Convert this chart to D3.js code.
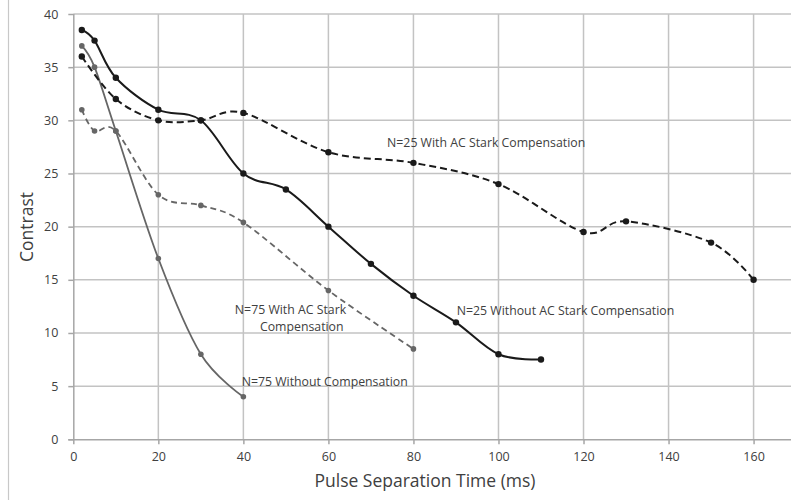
<!DOCTYPE html>
<html>
<head>
<meta charset="utf-8">
<script src="https://d3js.org/d3.v7.min.js"></script>
<style>
html, body { margin: 0; padding: 0; background: #fff; overflow: hidden; }
svg { display: block; }
text { font-family: "Open Sans", sans-serif; fill: #404040; }
</style>
</head>
<body>
<div id="chart"></div>
<script>
  // axis ticks
  var xTicks = [0, 20, 40, 60, 80, 100, 120, 140, 160];
  var yTicks = [0, 5, 10, 15, 20, 25, 30, 35, 40];

  // N=25 Without AC Stark Compensation
  var n25WithoutX = [2, 5, 10, 20, 30, 40, 50, 60, 70, 80, 90, 100, 110];
  var n25WithoutY = [38.5, 37.5, 34, 31, 30, 25, 23.5, 20, 16.5, 13.5, 11, 8, 7.5];

  // N=25 With AC Stark Compensation
  var n25WithX = [2, 10, 20, 30, 40, 60, 80, 100, 120, 130, 150, 160];
  var n25WithY = [36, 32, 30, 30, 30.7, 27, 26, 24, 19.5, 20.5, 18.5, 15];

  // N=75 With AC Stark Compensation
  var n75WithX = [2, 5, 10, 20, 30, 40, 60, 80];
  var n75WithY = [31, 29, 29, 23, 22, 20.4, 14, 8.5];

  // N=75 Without Compensation
  var n75WithoutX = [2, 5, 10, 20, 30, 40];
  var n75WithoutY = [37, 35, 29, 17, 8, 4];

  var width = 791, height = 500;

  var svg = d3.select("#chart").append("svg")
      .attr("width", width).attr("height", height);

  var x = d3.scaleLinear().domain([0, 168.8]).range([73.3, 791]);
  var y = d3.scaleLinear().domain([0, 40]).range([439.3, 14]);

  // outer frame line on the left
  svg.append("line")
      .attr("x1", 8.5).attr("x2", 8.5).attr("y1", 0).attr("y2", height)
      .attr("stroke", "#c8c8c8").attr("stroke-width", 1.2);

  // horizontal gridlines
  svg.append("g").selectAll("line").data(yTicks.slice(1)).enter().append("line")
      .attr("x1", x(0)).attr("x2", width)
      .attr("y1", function(d) { return y(d); }).attr("y2", function(d) { return y(d); })
      .attr("stroke", "#c3c3c3").attr("stroke-width", 1.5);

  // vertical gridlines
  svg.append("g").selectAll("line").data(xTicks.slice(1)).enter().append("line")
      .attr("x1", function(d) { return x(d); }).attr("x2", function(d) { return x(d); })
      .attr("y1", y(40)).attr("y2", y(0))
      .attr("stroke", "#c3c3c3").attr("stroke-width", 1.5);

  var xAxis = d3.axisBottom(x).tickValues(xTicks).tickSize(5).tickPadding(8);
  var yAxis = d3.axisLeft(y).tickValues(yTicks).tickSize(5).tickPadding(10);

  var gx = svg.append("g")
      .attr("transform", "translate(0," + y(0) + ")")
      .call(xAxis);
  gx.select(".domain").attr("d", "M" + (x(0) - 5) + ",0.5H" + width);

  var gy = svg.append("g")
      .attr("transform", "translate(" + x(0) + ",0)")
      .call(yAxis);
  gy.select(".domain").attr("d", "M0.5," + y(0) + "V" + y(40));

  svg.selectAll(".domain").attr("stroke", "#a6a6a6").attr("stroke-width", 1.5);
  svg.selectAll(".tick line").attr("stroke", "#a6a6a6").attr("stroke-width", 1.5);
  svg.selectAll(".tick text")
      .attr("font-family", "Open Sans, sans-serif")
      .attr("font-size", 12.5)
      .attr("fill", "#404040");

  // axis titles
  svg.append("text")
      .attr("x", 425).attr("y", 487)
      .attr("text-anchor", "middle")
      .attr("font-size", 17.5)
      .text("Pulse Separation Time (ms)");

  svg.append("text")
      .attr("transform", "translate(33,227) rotate(-90)")
      .attr("text-anchor", "middle")
      .attr("font-size", 17.5)
      .text("Contrast");

  var smooth = d3.line()
      .x(function(d) { return x(d[0]); })
      .y(function(d) { return y(d[1]); })
      .curve(d3.curveCardinal.tension(0));

  function drawSeries(xs, ys, color, dash, width, r) {
    var pts = d3.zip(xs, ys);
    svg.append("path")
        .attr("d", smooth(pts))
        .attr("fill", "none")
        .attr("stroke", color)
        .attr("stroke-width", width)
        .attr("stroke-dasharray", dash);
    svg.append("g").selectAll("circle").data(pts).enter().append("circle")
        .attr("cx", function(d) { return x(d[0]); })
        .attr("cy", function(d) { return y(d[1]); })
        .attr("r", r)
        .attr("fill", color);
  }

  drawSeries(n75WithX, n75WithY, "#666666", "6,4", 1.8, 2.8);
  drawSeries(n75WithoutX, n75WithoutY, "#666666", null, 1.8, 2.8);
  drawSeries(n25WithX, n25WithY, "#1a1a1a", "7,4", 2, 3.2);
  drawSeries(n25WithoutX, n25WithoutY, "#1a1a1a", null, 2, 3.2);

  // series labels
  function label(tx, vx, vy) {
    svg.append("text")
        .attr("x", x(vx)).attr("y", y(vy))
        .attr("dy", "0.35em")
        .attr("font-size", 12.3)
        .attr("fill", "#333")
        .text(tx);
  }
  label("N=25 With AC Stark Compensation", 73.8, 27.9);
  label("N=25 Without AC Stark Compensation", 90.2, 12.1);
  label("N=75 With AC Stark", 38.0, 12.2);
  label("Compensation", 43.9, 10.6);
  label("N=75 Without Compensation", 39.6, 5.4);
</script>
</body>
</html>
